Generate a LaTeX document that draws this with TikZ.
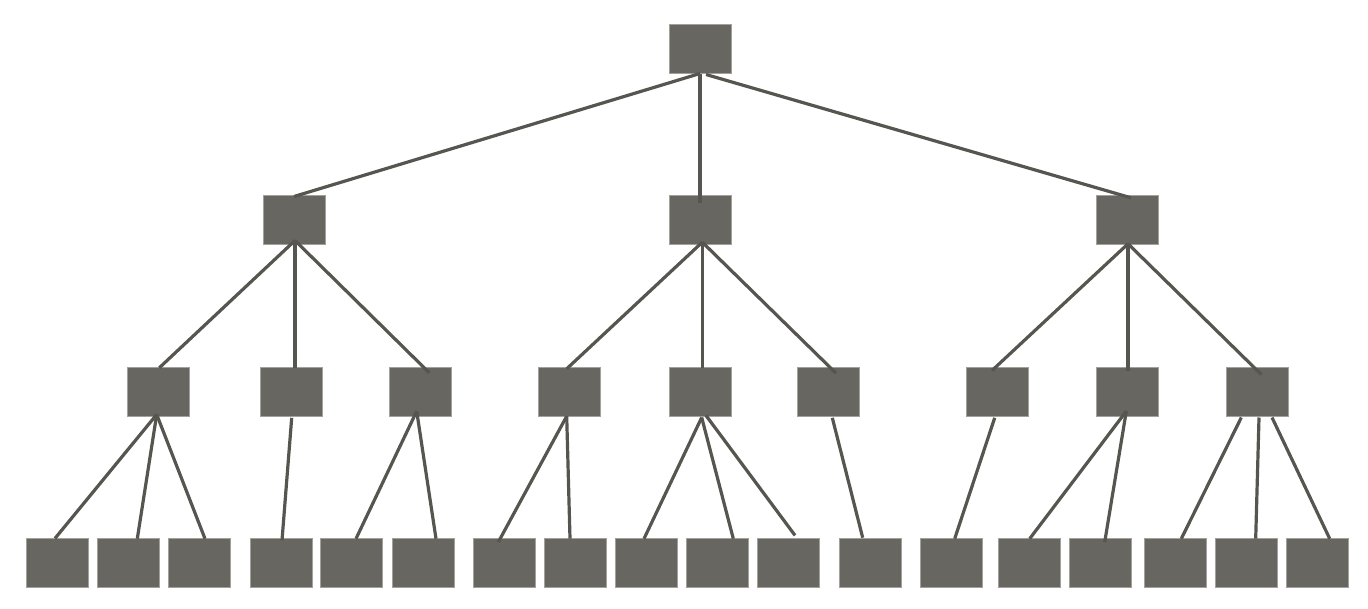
\documentclass[tikz,border=0pt]{standalone}
\definecolor{boxfill}{HTML}{686660}
\definecolor{boxedge}{HTML}{A3A19B}
\definecolor{linkcol}{HTML}{56554F}
\tikzset{
  box/.style={rectangle, fill=boxfill, draw=boxedge, line width=0.8pt,
    minimum width=62pt, minimum height=49pt, inner sep=0pt, outer sep=0pt},
  link/.style={draw=linkcol, line width=3.2pt}
}
\begin{document}
\begin{tikzpicture}[x=1pt,y=-1pt]
\useasboundingbox (0,0) rectangle (1368,608);
% level 1
\node[box] (r) at (700,48.5) {};
% level 2
\node[box] (a) at (294.7,220) {};
\node[box] (b) at (700,220) {};
\node[box] (c) at (1127.3,220) {};
% level 3
\node[box] (a1) at (158,391.7) {};
\node[box] (a2) at (291.5,391.7) {};
\node[box] (a3) at (420.5,391.7) {};
\node[box] (b1) at (569.5,391.7) {};
\node[box] (b2) at (700,391.7) {};
\node[box] (b3) at (828.7,391.7) {};
\node[box] (c1) at (997.8,391.7) {};
\node[box] (c2) at (1127.3,391.7) {};
\node[box] (c3) at (1257,391.7) {};
% leaves
\node[box] (l1) at (57.3,563.2) {};
\node[box] (l2) at (128.5,563.2) {};
\node[box] (l3) at (199.7,563.2) {};
\node[box] (l4) at (281.2,563.2) {};
\node[box] (l5) at (351.8,563.2) {};
\node[box] (l6) at (423,563.2) {};
\node[box] (l7) at (504.8,563.2) {};
\node[box] (l8) at (575.7,563.2) {};
\node[box] (l9) at (646.5,563.2) {};
\node[box] (l10) at (717.7,563.2) {};
\node[box] (l11) at (788.8,563.2) {};
\node[box] (l12) at (870.5,563.2) {};
\node[box] (l13) at (951.8,563.2) {};
\node[box] (l14) at (1029.7,563.2) {};
\node[box] (l15) at (1100.7,563.2) {};
\node[box] (l16) at (1175.7,563.2) {};
\node[box] (l17) at (1246.5,563.2) {};
\node[box] (l18) at (1317.7,563.2) {};
% connectors level 1 -> 2
\draw[link] ([shift={(0,0.5)}]r.south) -- ([shift={(-0.7,1)}]a.north);
\draw[link] ([shift={(0,0.5)}]r.south) -- ([shift={(0,7.5)}]b.north);
\draw[link] ([shift={(6,1.5)}]r.south) -- ([shift={(3.7,2.3)}]c.north);
% level 2 -> 3
\draw[link] ([shift={(0.3,-4)}]a.south) -- ([shift={(1.3,0.6)}]a1.north);
\draw[link] ([shift={(0.3,-4)}]a.south) -- ([shift={(3.5,0.3)}]a2.north);
\draw[link] ([shift={(0.3,-4)}]a.south) -- ([shift={(8.8,5.6)}]a3.north);
\draw[link] ([shift={(2.3,-2.3)}]b.south) -- ([shift={(-2.8,1.6)}]b1.north);
\draw[link] ([shift={(2.3,-2.3)}]b.south) -- ([shift={(2.3,0.3)}]b2.north);
\draw[link] ([shift={(2.3,-2.3)}]b.south) -- ([shift={(7.3,6)}]b3.north);
\draw[link] ([shift={(0.7,-0.7)}]c.south) -- ([shift={(-5.8,3.3)}]c1.north);
\draw[link] ([shift={(0.7,-0.7)}]c.south) -- ([shift={(0.7,3.3)}]c2.north);
\draw[link] ([shift={(0.7,-0.7)}]c.south) -- ([shift={(4.3,7.3)}]c3.north);
% level 3 -> leaves
\draw[link] ([shift={(-1.3,-1.7)}]a1.south) -- ([shift={(-2.3,-0.3)}]l1.north);
\draw[link] ([shift={(-1.3,-1.7)}]a1.south) -- ([shift={(8.8,0)}]l2.north);
\draw[link] ([shift={(-1.3,-1.7)}]a1.south) -- ([shift={(5.3,0)}]l3.north);
\draw[link] ([shift={(0.2,1.6)}]a2.south) -- ([shift={(0.8,1.7)}]l4.north);
\draw[link] ([shift={(-3.8,-5)}]a3.south) -- ([shift={(4.2,0)}]l5.north);
\draw[link] ([shift={(-3.8,-5)}]a3.south) -- ([shift={(13,0)}]l6.north);
\draw[link] ([shift={(-2.8,0)}]b1.south) -- ([shift={(-6.5,3.4)}]l7.north);
\draw[link] ([shift={(-2.8,0)}]b1.south) -- ([shift={(-5.7,0)}]l8.north);
\draw[link] ([shift={(1.7,1.3)}]b2.south) -- ([shift={(-2.5,0)}]l9.north);
\draw[link] ([shift={(1.7,1.3)}]b2.south) -- ([shift={(15.6,0)}]l10.north);
\draw[link] ([shift={(6,-0.7)}]b2.south) -- ([shift={(6.2,-3.3)}]l11.north);
\draw[link] ([shift={(3.6,1.6)}]b3.south) -- ([shift={(-7.8,-1)}]l12.north);
\draw[link] ([shift={(-3.1,1.6)}]c1.south) -- ([shift={(2.9,0)}]l13.north);
\draw[link] ([shift={(-1,-5)}]c2.south) -- ([shift={(0,0)}]l14.north);
\draw[link] ([shift={(-1,-5)}]c2.south) -- ([shift={(4,3.4)}]l15.north);
\draw[link] ([shift={(-15.7,1.3)}]c3.south) -- ([shift={(5.6,0)}]l16.north);
\draw[link] ([shift={(2,1.3)}]c3.south) -- ([shift={(9.2,0)}]l17.north);
\draw[link] ([shift={(15,1.3)}]c3.south) -- ([shift={(12,0)}]l18.north);
\end{tikzpicture}
\end{document}
